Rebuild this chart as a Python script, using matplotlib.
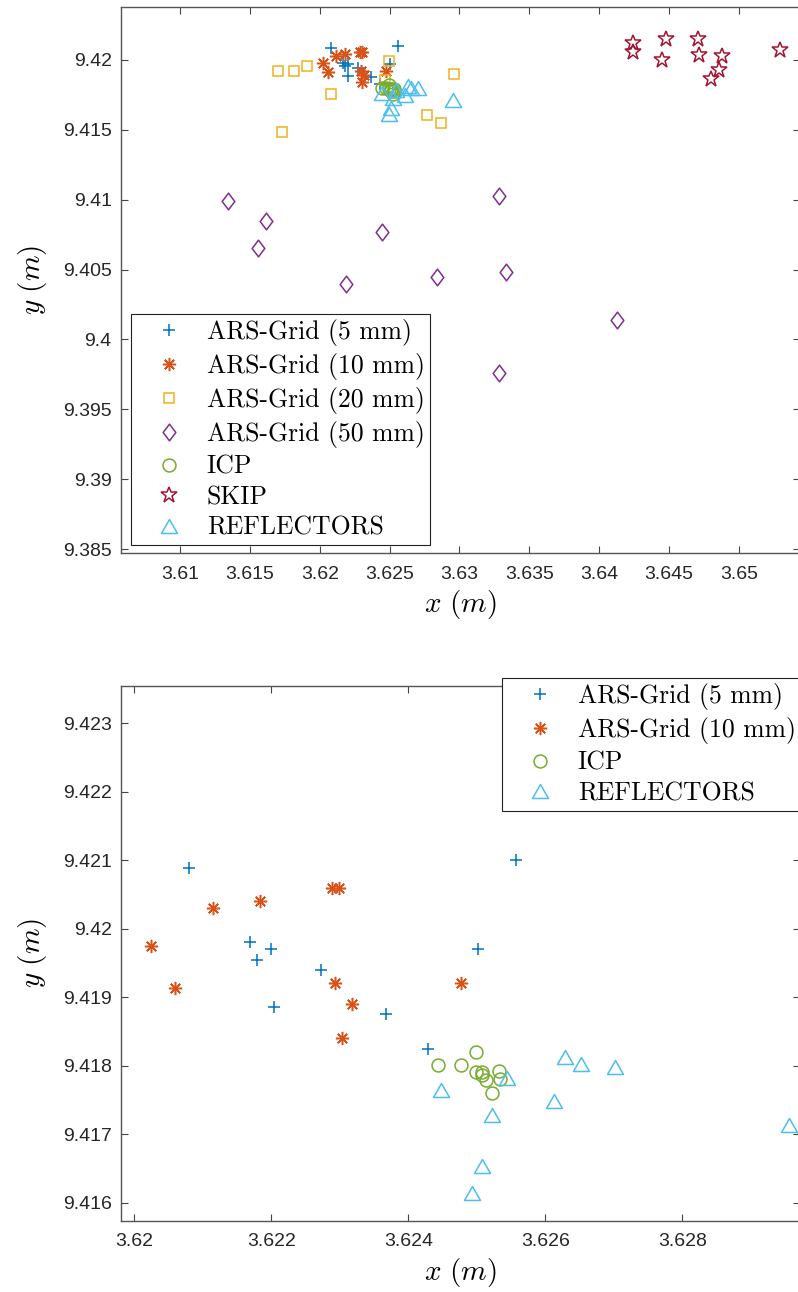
import numpy as np
import matplotlib
matplotlib.use("Agg")
import matplotlib.pyplot as plt
from matplotlib.path import Path
from matplotlib.font_manager import FontProperties

plt.rcParams['mathtext.fontset'] = 'cm'

# ---------------- data ----------------
grid5_x = [3.62079, 3.62169, 3.62199, 3.62179, 3.62273, 3.62204, 3.62368, 3.62428, 3.62502, 3.62557]
grid5_y = [9.42089, 9.41980, 9.41970, 9.41954, 9.41940, 9.41885, 9.41875, 9.41825, 9.41970, 9.42100]

grid10_x = [3.62024, 3.62059, 3.62114, 3.62184, 3.62288, 3.62299, 3.62293, 3.62318, 3.62303, 3.62477]
grid10_y = [9.41975, 9.41914, 9.42030, 9.42040, 9.42059, 9.42059, 9.41920, 9.41890, 9.41840, 9.41920]

grid20_x = [3.61704, 3.61816, 3.61911, 3.62083, 3.61728, 3.62494, 3.62467, 3.62963, 3.62768, 3.62866]
grid20_y = [9.41920, 9.41918, 9.41956, 9.41756, 9.41482, 9.41991, 9.41858, 9.41901, 9.41610, 9.41546]

grid50_x = [3.61346, 3.61616, 3.61556, 3.62448, 3.62188, 3.62837, 3.63283, 3.63334, 3.64128, 3.63283]
grid50_y = [9.40991, 9.40846, 9.40655, 9.40767, 9.40395, 9.40447, 9.41024, 9.40486, 9.40136, 9.39761]

icp_x = [3.62443, 3.62477, 3.62498, 3.62498, 3.62507, 3.62508, 3.62513, 3.62532, 3.62533, 3.62522]
icp_y = [9.41801, 9.41801, 9.41820, 9.41791, 9.41791, 9.41786, 9.41779, 9.41792, 9.41780, 9.41760]

skip_x = [3.64245, 3.64245, 3.64479, 3.64450, 3.64706, 3.64717, 3.64880, 3.64856, 3.64799, 3.65290]
skip_y = [9.42120, 9.42056, 9.42152, 9.41999, 9.42152, 9.42037, 9.42027, 9.41930, 9.41866, 9.42068]

refl_x = [3.62448, 3.62544, 3.62522, 3.62628, 3.62652, 3.62702, 3.62612, 3.62956, 3.62508, 3.62493]
refl_y = [9.41764, 9.41782, 9.41728, 9.41813, 9.41802, 9.41798, 9.41748, 9.41713, 9.41654, 9.41614]

labels = ['ARS-Grid (5 mm)', 'ARS-Grid (10 mm)', 'ARS-Grid (20 mm)', 'ARS-Grid (50 mm)',
          'ICP', 'SKIP', 'REFLECTORS']

top_xticks = [3.61, 3.615, 3.62, 3.625, 3.63, 3.635, 3.64, 3.645, 3.65]
top_yticks = [9.385, 9.39, 9.395, 9.40, 9.405, 9.41, 9.415, 9.42]
bot_xticks = [3.620, 3.622, 3.624, 3.626, 3.628]
bot_yticks = [9.416, 9.417, 9.418, 9.419, 9.420, 9.421, 9.422, 9.423]

# ---------------- styles ----------------
C_BLUE = '#0072BD'
C_ORANGE = '#D95319'
C_YELLOW = '#EDB120'
C_PURPLE = '#7E2F8E'
C_GREEN = '#77AC30'
C_RED = '#A2142F'
C_CYAN = '#4DBEEE'

diamond = Path([(0, 1), (0.76, 0), (0, -1), (-0.76, 0), (0, 1)],
               [Path.MOVETO, Path.LINETO, Path.LINETO, Path.LINETO, Path.CLOSEPOLY])
triangle = Path([(0, 0.875), (-1, -0.875), (1, -0.875), (0, 0.875)],
                [Path.MOVETO, Path.LINETO, Path.LINETO, Path.CLOSEPOLY])

series = {
    'g5': dict(x=grid5_x, y=grid5_y, marker='+', ms=8.5, color=C_BLUE, label=labels[0]),
    'g10': dict(x=grid10_x, y=grid10_y, marker=(8, 2, 0), ms=9.5, color=C_ORANGE, label=labels[1]),
    'g20': dict(x=grid20_x, y=grid20_y, marker='s', ms=7.5, color=C_YELLOW, label=labels[2]),
    'g50': dict(x=grid50_x, y=grid50_y, marker=diamond, ms=12, color=C_PURPLE, label=labels[3]),
    'icp': dict(x=icp_x, y=icp_y, marker='o', ms=9.3, color=C_GREEN, label=labels[4]),
    'skip': dict(x=skip_x, y=skip_y, marker='*', ms=12, color=C_RED, label=labels[5]),
    'refl': dict(x=refl_x, y=refl_y, marker=triangle, ms=11.5, color=C_CYAN, label=labels[6]),
}

W, H = 798, 1292
fig = plt.figure(figsize=(W / 100, H / 100), dpi=100)


def add_axes_px(l, t, r, b):
    return fig.add_axes([l / W, 1 - b / H, (r - l) / W, (b - t) / H])


tick_font = 'Liberation Sans'
leg_prop = FontProperties(family='cmr10', size=18.5)


def style_axes(ax, xticks, yticks):
    ax.set_xticks(xticks)
    ax.set_yticks(yticks)
    ax.set_xticklabels(['%g' % v for v in xticks], fontfamily=tick_font, fontsize=14, color='#262626')
    ax.set_yticklabels(['%g' % v for v in yticks], fontfamily=tick_font, fontsize=14, color='#262626')
    ax.tick_params(direction='in', length=5, width=0.8, color='#444444', top=True, right=True)
    ax.tick_params(axis='x', pad=9)
    ax.tick_params(axis='y', pad=7)
    for s in ax.spines.values():
        s.set_color('#555555')
        s.set_linewidth(1.0)
    ax.set_xlabel(r'$x\ (m)$', fontsize=21, labelpad=4)
    ax.set_ylabel(r'$y\ (m)$', fontsize=21, labelpad=10)


def draw(ax, keys):
    hs = []
    for k in keys:
        s = series[k]
        h, = ax.plot(s['x'], s['y'], linestyle='none', marker=s['marker'], markersize=s['ms'],
                     markerfacecolor='none', markeredgecolor=s['color'], markeredgewidth=1.1,
                     label=s['label'])
        hs.append(h)
    return hs


def make_legend(ax, hs, loc, anchor):
    leg = ax.legend(handles=hs, loc=loc, bbox_to_anchor=anchor,
                    bbox_transform=fig.transFigure, borderaxespad=0, prop=leg_prop,
                    frameon=True, fancybox=False, framealpha=1, edgecolor='#222222',
                    handlelength=2.55, handletextpad=0.2, borderpad=0.2, labelspacing=0.27)
    leg.get_frame().set_linewidth(0.8)
    return leg


# ---------------- top axes ----------------
ax1 = add_axes_px(121.4, 6.7, 800, 553)
hs1 = draw(ax1, ['g5', 'g10', 'g20', 'g50', 'icp', 'skip', 'refl'])
ax1.set_xlim(3.605807, 3.654365)
ax1.set_ylim(9.384722, 9.423814)
style_axes(ax1, top_xticks, top_yticks)
make_legend(ax1, hs1, 'lower left', (131 / W, 1 - 545 / H))

# ---------------- bottom axes ----------------
ax2 = add_axes_px(121.4, 686.2, 800, 1220.5)
hs2 = draw(ax2, ['g5', 'g10', 'icp', 'refl'])
ax2.set_xlim(3.619810, 3.629717)
ax2.set_ylim(9.41574, 9.42354)
style_axes(ax2, bot_xticks, bot_yticks)
make_legend(ax2, hs2, 'upper left', (502 / W, 1 - 678 / H))

fig.savefig('out.png', dpi=100)
